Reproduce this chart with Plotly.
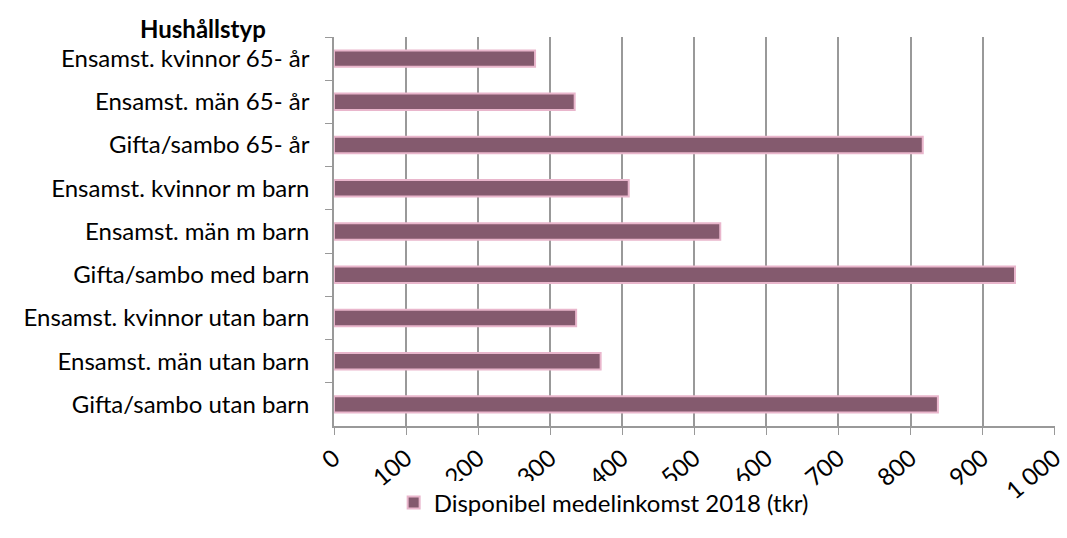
import plotly.graph_objects as go

# Hushållstyp, top to bottom as shown
categories = [
    "Ensamst. kvinnor 65- år",
    "Ensamst. män 65- år",
    "Gifta/sambo 65- år",
    "Ensamst. kvinnor m barn",
    "Ensamst. män m barn",
    "Gifta/sambo med barn",
    "Ensamst. kvinnor utan barn",
    "Ensamst. män utan barn",
    "Gifta/sambo utan barn",
]
income = [279, 334, 817, 409, 536, 945, 336, 370, 838]

tick_vals = [0, 100, 200, 300, 400, 500, 600, 700, 800, 900, 1000]
tick_text = ["0", "100", "200", "300", "400", "500", "600", "700", "800", "900", "1 000"]

FONT = "Lato, 'Open Sans', sans-serif"

fig = go.Figure()
fig.add_trace(go.Bar(
    x=income,
    y=categories,
    orientation="h",
    name="Disponibel medelinkomst 2018 (tkr)",
    marker=dict(color="#845A6E", line=dict(color="#E9B6CC", width=2)),
))

fig.add_annotation(
    text="<b>Hushållstyp</b>",
    xref="paper", yref="paper",
    x=-0.181, y=1.023,
    xanchor="center", yanchor="middle",
    showarrow=False,
    font=dict(size=24, color="#000000", family=FONT),
)

fig.update_layout(
    width=1067,
    height=538,
    margin=dict(l=334, r=12, t=37, b=103),
    paper_bgcolor="white",
    plot_bgcolor="white",
    font=dict(family=FONT, size=24, color="#000000"),
    bargap=0.62,
    showlegend=True,
    legend=dict(
        orientation="h",
        x=0.374, y=-0.198,
        xanchor="center", yanchor="middle",
        font=dict(size=24),
        itemwidth=30,
    ),
    xaxis=dict(
        range=[0, 1000.5],
        tickvals=tick_vals,
        ticktext=tick_text,
        tickangle=-40,
        automargin=False,
        ticklabeloverflow="allow",
        showgrid=True,
        gridcolor="#999999",
        gridwidth=1.5,
        showline=True,
        linecolor="#999999",
        linewidth=1.5,
        ticks="outside",
        tickcolor="#999999",
        ticklen=7,
        zeroline=False,
    ),
    yaxis=dict(
        categoryorder="array",
        categoryarray=categories,
        autorange="reversed",
        automargin=False,
        showline=True,
        linecolor="#999999",
        linewidth=1.5,
        ticks="outside",
        tickson="boundaries",
        tickcolor="#999999",
        ticklen=7,
        showgrid=False,
        ticklabelstandoff=18,
    ),
)

# drop the default 8px page margin so the figure fills the window
fig.write_html(
    "out.html",
    config={"displayModeBar": False},
    post_script="document.body.style.margin = '0';",
)
